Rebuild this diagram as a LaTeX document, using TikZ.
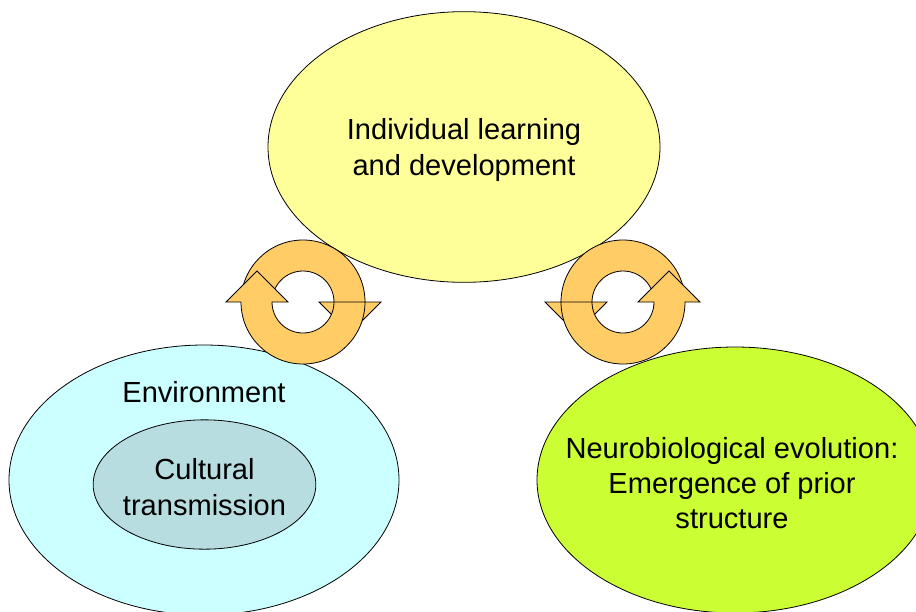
\documentclass[tikz,border=0pt]{standalone}
\usepackage{fontspec}
\setmainfont{Liberation Sans}
\usetikzlibrary{shapes.geometric}
\definecolor{paleyellow}{HTML}{FFFF99}
\definecolor{palecyan}{HTML}{CCFFFF}
\definecolor{greycyan}{HTML}{B8DDE0}
\definecolor{limegreen}{HTML}{CCFF33}
\definecolor{ringgold}{HTML}{FFCC66}

\begin{document}
\begin{tikzpicture}[x=0.75pt, y=-0.75pt,
  blob/.style={ellipse, draw, line width=0.6pt, inner sep=0pt},
  txt/.style={align=center, font=\fontsize{21.8}{26.4}\selectfont},
  ringpart/.style={draw, line width=0.6pt, fill=ringgold, line join=miter}]
\useasboundingbox (0,0) rectangle (916,611);

\node [blob, fill=paleyellow, minimum width=294pt, minimum height=203pt] (indiv) at (464,147) {};
\node [txt] (indivtext) at (464,150) {Individual learning\\and development};

\node [blob, fill=palecyan, minimum width=292.5pt, minimum height=202.5pt] (env) at (204,480) {};
\node [txt] (envlabel) at (204,392) {Environment};
\node [blob, fill=greycyan, minimum width=167pt, minimum height=97pt] (culture) at (204.5,484.5) {};
\node [txt] (culturetext) at (204.5,487) {Cultural\\transmission};

\node [blob, fill=limegreen, minimum width=297pt, minimum height=199.5pt] (neuro) at (735,480) {};
\node [txt] (neurotext) at (732,483) {Neurobiological evolution:\\Emergence of prior\\structure};

\begin{scope}[shift={(303,302)}]
\draw [ringpart] (180:62) arc [start angle=180, end angle=360, radius=62]
  -- (78,0) -- (47,31) -- (16,0) -- (31,0)
  arc [start angle=360, end angle=180, radius=31] -- cycle;
\draw [ringpart] (0:62) arc [start angle=0, end angle=180, radius=62]
  -- (-77,0) -- (-46,-31) -- (-15,0) -- (-31,0)
  arc [start angle=180, end angle=0, radius=31] -- cycle;
\end{scope}

\begin{scope}[shift={(623,302)}, xscale=-1]
\draw [ringpart] (180:62) arc [start angle=180, end angle=360, radius=62]
  -- (78,0) -- (47,31) -- (16,0) -- (31,0)
  arc [start angle=360, end angle=180, radius=31] -- cycle;
\draw [ringpart] (0:62) arc [start angle=0, end angle=180, radius=62]
  -- (-77,0) -- (-46,-31) -- (-15,0) -- (-31,0)
  arc [start angle=180, end angle=0, radius=31] -- cycle;
\end{scope}

\end{tikzpicture}
\end{document}
